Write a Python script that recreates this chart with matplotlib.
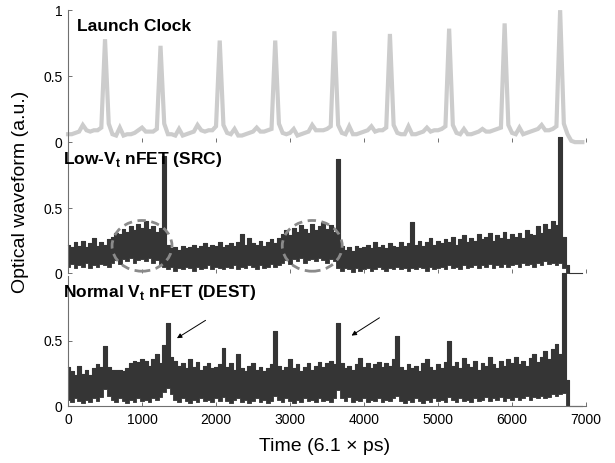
import numpy as np
import matplotlib
matplotlib.use("Agg")
import matplotlib.pyplot as plt
from matplotlib.patches import Ellipse

plt.rcParams['font.family'] = ['Liberation Sans', 'DejaVu Sans']
plt.rcParams['mathtext.fontset'] = 'custom'
plt.rcParams['mathtext.rm'] = 'Liberation Sans'
plt.rcParams['mathtext.bf'] = 'Liberation Sans:bold'

# time axis, sampled every 50 units (6.1 ps each)
t = np.arange(0, 7000, 50)

# launch clock trace
clk = [0.06, 0.06, 0.07, 0.08, 0.13, 0.09, 0.08, 0.09, 0.09, 0.11,
       0.78, 0.14, 0.06, 0.05, 0.11, 0.05, 0.06, 0.06, 0.07, 0.09,
       0.11, 0.08, 0.08, 0.08, 0.10, 0.73, 0.14, 0.06, 0.06, 0.05,
       0.10, 0.05, 0.06, 0.07, 0.08, 0.13, 0.09, 0.08, 0.09, 0.09,
       0.12, 0.77, 0.13, 0.07, 0.06, 0.10, 0.05, 0.05, 0.06, 0.07,
       0.08, 0.11, 0.08, 0.08, 0.09, 0.10, 0.77, 0.14, 0.07, 0.06,
       0.07, 0.10, 0.05, 0.06, 0.07, 0.08, 0.13, 0.09, 0.09, 0.09,
       0.10, 0.12, 0.84, 0.13, 0.07, 0.06, 0.12, 0.06, 0.06, 0.07,
       0.08, 0.09, 0.12, 0.08, 0.09, 0.09, 0.11, 0.82, 0.13, 0.07,
       0.06, 0.06, 0.12, 0.06, 0.06, 0.07, 0.08, 0.11, 0.08, 0.09,
       0.09, 0.10, 0.12, 0.86, 0.13, 0.07, 0.06, 0.10, 0.06, 0.06,
       0.07, 0.08, 0.10, 0.08, 0.08, 0.09, 0.10, 0.11, 0.90, 0.13,
       0.07, 0.06, 0.11, 0.06, 0.07, 0.08, 0.09, 0.10, 0.13, 0.09,
       0.09, 0.10, 0.12, 1.00, 0.14, 0.06, 0.01, 0.0, 0.0, 0.0]

# low-Vt nFET (SRC): upper / lower edge of the noisy band
src_hi = [0.22, 0.20, 0.24, 0.21, 0.25, 0.20, 0.23, 0.27, 0.21, 0.24,
          0.22, 0.26, 0.28, 0.31, 0.30, 0.34, 0.32, 0.36, 0.33, 0.38,
          0.35, 0.40, 0.34, 0.36, 0.32, 0.35, 0.90, 0.22, 0.19, 0.20,
          0.18, 0.21, 0.19, 0.20, 0.22, 0.19, 0.21, 0.23, 0.20, 0.22,
          0.21, 0.24, 0.20, 0.22, 0.23, 0.21, 0.24, 0.30, 0.22, 0.27,
          0.23, 0.22, 0.25, 0.21, 0.24, 0.26, 0.23, 0.27, 0.30, 0.33,
          0.29, 0.35, 0.32, 0.37, 0.34, 0.31, 0.38, 0.33, 0.36, 0.39,
          0.34, 0.37, 0.32, 0.88, 0.21, 0.18, 0.20, 0.17, 0.21, 0.19,
          0.20, 0.22, 0.19, 0.24, 0.20, 0.22, 0.19, 0.23, 0.21, 0.20,
          0.24, 0.21, 0.23, 0.39, 0.22, 0.25, 0.21, 0.24, 0.27, 0.22,
          0.25, 0.23, 0.26, 0.24, 0.28, 0.22, 0.26, 0.29, 0.24, 0.27,
          0.25, 0.30, 0.26, 0.28, 0.31, 0.25, 0.29, 0.27, 0.32, 0.26,
          0.30, 0.28, 0.31, 0.27, 0.33, 0.30, 0.29, 0.36, 0.31, 0.38,
          0.34, 0.40, 0.37, 1.05, 0.28, 0.06, 0.0, 0.0, 0.0, 0.0]
src_lo = [0.05, 0.07, 0.04, 0.06, 0.05, 0.08, 0.04, 0.06, 0.05, 0.07,
          0.06, 0.05, 0.08, 0.10, 0.07, 0.11, 0.09, 0.12, 0.08, 0.10,
          0.11, 0.09, 0.12, 0.08, 0.10, 0.07, 0.05, 0.03, 0.05, 0.02,
          0.04, 0.03, 0.05, 0.04, 0.02, 0.05, 0.03, 0.04, 0.06, 0.03,
          0.05, 0.04, 0.03, 0.05, 0.04, 0.06, 0.03, 0.05, 0.04, 0.06,
          0.05, 0.03, 0.06, 0.04, 0.05, 0.07, 0.05, 0.06, 0.08, 0.10,
          0.07, 0.11, 0.09, 0.12, 0.08, 0.10, 0.11, 0.09, 0.12, 0.10,
          0.08, 0.11, 0.09, 0.04, 0.02, 0.04, 0.03, 0.01, 0.04, 0.02,
          0.03, 0.04, 0.02, 0.03, 0.05, 0.03, 0.02, 0.04, 0.03, 0.05,
          0.03, 0.04, 0.02, 0.04, 0.03, 0.05, 0.04, 0.02, 0.05, 0.03,
          0.04, 0.05, 0.03, 0.06, 0.04, 0.05, 0.03, 0.06, 0.04, 0.05,
          0.06, 0.04, 0.06, 0.05, 0.07, 0.04, 0.06, 0.05, 0.07, 0.05,
          0.06, 0.07, 0.05, 0.08, 0.06, 0.07, 0.05, 0.08, 0.06, 0.09,
          0.07, 0.08, 0.06, 0.08, 0.04, 0.0, 0.0, 0.0, 0.0, 0.0]

# normal-Vt nFET (DEST)
dst_hi = [0.30, 0.27, 0.24, 0.31, 0.25, 0.28, 0.24, 0.29, 0.32, 0.30,
          0.46, 0.30, 0.28, 0.28, 0.28, 0.27, 0.29, 0.33, 0.35, 0.34,
          0.36, 0.35, 0.31, 0.36, 0.40, 0.33, 0.47, 0.64, 0.38, 0.35,
          0.31, 0.33, 0.29, 0.36, 0.30, 0.34, 0.28, 0.31, 0.33, 0.29,
          0.30, 0.32, 0.45, 0.30, 0.33, 0.28, 0.40, 0.29, 0.27, 0.31,
          0.33, 0.28, 0.30, 0.27, 0.29, 0.32, 0.58, 0.31, 0.28, 0.30,
          0.36, 0.29, 0.32, 0.27, 0.30, 0.33, 0.28, 0.31, 0.34, 0.30,
          0.33, 0.35, 0.32, 0.64, 0.33, 0.29, 0.31, 0.28, 0.32, 0.37,
          0.30, 0.33, 0.29, 0.32, 0.34, 0.30, 0.33, 0.31, 0.36, 0.54,
          0.30, 0.28, 0.32, 0.29, 0.31, 0.27, 0.33, 0.36, 0.30, 0.28,
          0.32, 0.29, 0.34, 0.50, 0.31, 0.34, 0.29, 0.37, 0.32, 0.30,
          0.35, 0.28, 0.33, 0.31, 0.38, 0.32, 0.29, 0.35, 0.31, 0.36,
          0.33, 0.38, 0.32, 0.35, 0.31, 0.37, 0.40, 0.34, 0.38, 0.42,
          0.36, 0.44, 0.48, 0.40, 1.02, 0.20, 0.0, 0.0, 0.0, 0.0]
dst_lo = [0.05, 0.03, 0.06, 0.04, 0.02, 0.05, 0.03, 0.06, 0.04, 0.07,
          0.13, 0.08, 0.05, 0.03, 0.06, 0.04, 0.02, 0.05, 0.03, 0.06,
          0.04, 0.05, 0.03, 0.06, 0.05, 0.07, 0.11, 0.14, 0.09, 0.05,
          0.03, 0.06, 0.04, 0.02, 0.05, 0.03, 0.06, 0.04, 0.05, 0.03,
          0.06, 0.04, 0.07, 0.04, 0.02, 0.05, 0.06, 0.03, 0.05, 0.02,
          0.04, 0.06, 0.03, 0.05, 0.02, 0.04, 0.08, 0.05, 0.03, 0.06,
          0.04, 0.02, 0.05, 0.03, 0.06, 0.04, 0.05, 0.03, 0.06, 0.04,
          0.05, 0.03, 0.06, 0.12, 0.06, 0.04, 0.07, 0.03, 0.05, 0.04,
          0.06, 0.03, 0.05, 0.04, 0.06, 0.03, 0.05, 0.04, 0.06, 0.08,
          0.04, 0.02, 0.05, 0.03, 0.06, 0.04, 0.02, 0.05, 0.03, 0.06,
          0.04, 0.05, 0.03, 0.07, 0.05, 0.03, 0.06, 0.04, 0.05, 0.03,
          0.06, 0.04, 0.05, 0.07, 0.04, 0.06, 0.05, 0.07, 0.04, 0.06,
          0.05, 0.07, 0.05, 0.06, 0.08, 0.05, 0.07, 0.06, 0.08, 0.06,
          0.07, 0.09, 0.08, 0.09, 0.10, 0.0, 0.0, 0.0, 0.0, 0.0]

titles = ['Launch Clock', r'Low-V$_\mathbf{t}$ nFET (SRC)', r'Normal V$_\mathbf{t}$ nFET (DEST)']
xticks = [0, 1000, 2000, 3000, 4000, 5000, 6000, 7000]

dark = '#353535'
light = '#cccccc'
spine_c = '#707070'

fig = plt.figure(figsize=(6.15, 4.63), dpi=100)
L, W = 0.1106, 0.8423
ax1 = fig.add_axes([L, 0.693, W, 0.285])
ax2 = fig.add_axes([L, 0.410, W, 0.281])
ax3 = fig.add_axes([L, 0.123, W, 0.281])

for ax in (ax1, ax2, ax3):
    ax.set_facecolor('none')
    ax.set_xlim(0, 7000)
    ax.set_ylim(0, 1)
    for s in ('top', 'right'):
        ax.spines[s].set_visible(False)
    ax.spines['left'].set_color(spine_c)
    ax.spines['left'].set_linewidth(0.8)
    ax.spines['bottom'].set_color(spine_c)
    ax.spines['bottom'].set_linewidth(0.8)
    ax.tick_params(direction='in', length=3, width=0.7, color=spine_c,
                   labelsize=10, pad=4)
    ax.set_xticks(xticks)

ax1.spines['bottom'].set_visible(False)
ax2.spines['bottom'].set_visible(False)
ax1.set_xticklabels([])
ax2.set_xticklabels([])
ax3.set_xticklabels([str(v) for v in xticks])
ax3.tick_params(axis='x', pad=5)

ax1.set_yticks([0, 0.5, 1])
ax1.set_yticklabels(['0', '0.5', '1'])
ax2.set_yticks([0, 0.5])
ax2.set_yticklabels(['0', '0.5'])
ax3.set_yticks([0, 0.5])
ax3.set_yticklabels(['0', '0.5'])

# traces
ax1.plot(t, clk, color=light, lw=3, solid_joinstyle='miter', clip_on=False)
for ax, lo, hi in ((ax2, src_lo, src_hi), (ax3, dst_lo, dst_hi)):
    ax.fill_between(t, lo, hi, step='mid', color=dark, lw=0.6,
                    edgecolor=dark, clip_on=False)
    ax.step(t, hi, where='mid', color=dark, lw=0.8, clip_on=False)

# dashed circles on the SRC trace
for cx in (1000, 3300):
    ax2.add_patch(Ellipse((cx, 0.21), 810, 0.39, fill=False, ls=(0, (3, 2)),
                          ec='#8a8a8a', lw=2, zorder=5))

# arrows on the DEST trace
ax3.annotate('', xy=(1440, 0.51), xytext=(1890, 0.67),
             arrowprops=dict(arrowstyle='-|>', lw=0.7, color='k',
                             mutation_scale=7))
ax3.annotate('', xy=(3800, 0.53), xytext=(4240, 0.69),
             arrowprops=dict(arrowstyle='-|>', lw=0.7, color='k',
                             mutation_scale=7))

# panel titles
ax1.text(0.017, 0.84, titles[0], transform=ax1.transAxes, fontsize=12.5,
         fontweight='bold', va='baseline')
ax2.text(-0.01, 0.84, titles[1], transform=ax2.transAxes, fontsize=12.5,
         fontweight='bold', va='baseline')
ax3.text(-0.01, 0.84, titles[2], transform=ax3.transAxes, fontsize=12.5,
         fontweight='bold', va='baseline')

fig.text(0.033, 0.585, 'Optical waveform (a.u.)', rotation=90, fontsize=14,
         ha='center', va='center')
fig.text(0.527, 0.035, 'Time (6.1 \u00d7 ps)', fontsize=14, ha='center',
         va='center')

fig.savefig('out.png', dpi=100)
